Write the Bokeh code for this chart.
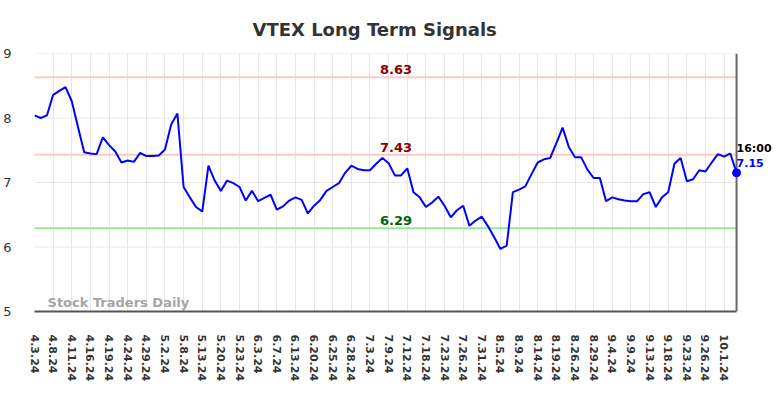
from bokeh.plotting import figure
from bokeh.models import Range1d, FixedTicker
from bokeh.core.properties import value
from bokeh.embed import file_html
from bokeh.resources import INLINE

title_text = "VTEX Long Term Signals"

prices = [
    8.04, 8.00, 8.04, 8.36, 8.42, 8.48, 8.26, 7.86, 7.47, 7.45,
    7.44, 7.70, 7.58, 7.48, 7.31, 7.34, 7.32, 7.46, 7.41, 7.41,
    7.42, 7.51, 7.90, 8.07, 6.93, 6.77, 6.62, 6.55, 7.26, 7.03,
    6.87, 7.03, 6.99, 6.93, 6.72, 6.87, 6.71, 6.76, 6.81, 6.58,
    6.63, 6.72, 6.77, 6.73, 6.52, 6.64, 6.73, 6.87, 6.93, 6.99,
    7.15, 7.26, 7.21, 7.19, 7.19, 7.29, 7.38, 7.30, 7.11, 7.11,
    7.22, 6.85, 6.77, 6.62, 6.69, 6.78, 6.64, 6.46, 6.57, 6.64,
    6.33, 6.41, 6.47, 6.32, 6.15, 5.97, 6.02, 6.85, 6.89, 6.94,
    7.13, 7.31, 7.36, 7.38, 7.61, 7.85, 7.55, 7.39, 7.39, 7.20,
    7.07, 7.07, 6.71, 6.77, 6.74, 6.72, 6.71, 6.71, 6.82, 6.85,
    6.62, 6.77, 6.85, 7.29, 7.38, 7.02, 7.05, 7.19, 7.17, 7.31,
    7.44, 7.40, 7.45, 7.15,
]

tick_labels = [
    "4.3.24", "4.8.24", "4.11.24", "4.16.24", "4.19.24", "4.24.24", "4.29.24",
    "5.2.24", "5.8.24", "5.13.24", "5.20.24", "5.23.24", "6.3.24", "6.7.24",
    "6.13.24", "6.20.24", "6.25.24", "6.28.24", "7.3.24", "7.9.24", "7.12.24",
    "7.18.24", "7.23.24", "7.26.24", "7.31.24", "8.5.24", "8.9.24", "8.14.24",
    "8.19.24", "8.26.24", "8.29.24", "9.4.24", "9.9.24", "9.13.24", "9.18.24",
    "9.23.24", "9.26.24", "10.1.24",
]
tick_step = 3
y_ticks = [5, 6, 7, 8, 9]

levels = [8.63, 7.43, 6.29]
level_line_colors = ["#ffc8c8", "#ffc8c8", "#99e699"]
level_text_colors = ["#8b0000", "#8b0000", "#006400"]

last_time = "16:00"
last_value = 7.15

xs = list(range(len(prices)))
last_x = xs[-1]
# room to the right of the last point for the time / value labels
x_pad = last_x * 0.0626

p = figure(width=780, height=394, output_backend="svg", toolbar_location=None,
           x_range=Range1d(0, last_x + x_pad), y_range=Range1d(5, 9),
           min_border_left=33, min_border_right=0, min_border_top=53,
           min_border_bottom=83)
p.outline_line_color = None
p.background_fill_color = "white"
p.border_fill_color = "white"

p.title.text = title_text
p.title.align = "left"
p.title.text_font = "DejaVu Sans"
p.title.text_font_size = "18px"
p.title.text_font_style = "bold"
p.title.text_color = "#333333"
p.title.offset = 218
p.title.standoff = 27

ticks = [i * tick_step for i in range(len(tick_labels))]
p.xaxis.ticker = FixedTicker(ticks=ticks)
p.xaxis.major_label_overrides = {t: lab for t, lab in zip(ticks, tick_labels)}
p.xaxis.major_label_orientation = "vertical"
p.xaxis.major_label_text_font = "DejaVu Sans"
p.xaxis.major_label_text_font_size = "11px"
p.xaxis.major_label_text_font_style = "bold"
p.xaxis.major_label_text_color = "#333333"
p.xaxis.major_label_standoff = 17
p.xaxis.axis_line_color = "#555555"
p.xaxis.axis_line_width = 2
p.xaxis.bounds = (0, last_x)
p.xaxis.major_tick_line_color = None
p.xaxis.minor_tick_line_color = None

p.yaxis.ticker = FixedTicker(ticks=y_ticks)
p.yaxis.major_label_text_font = "DejaVu Sans"
p.yaxis.major_label_text_font_size = "13px"
p.yaxis.major_label_text_color = "#333333"
p.yaxis.major_label_standoff = 17
p.yaxis.axis_line_color = None
p.yaxis.major_tick_line_color = None
p.yaxis.minor_tick_line_color = None

p.xgrid.grid_line_color = "#e6e6e6"
p.xgrid.grid_line_width = 1
p.ygrid.grid_line_color = None

# horizontal grid lines stop at the last data point
p.segment(x0=[0] * len(y_ticks), x1=[last_x] * len(y_ticks), y0=y_ticks,
          y1=y_ticks, line_color="#e6e6e6", line_width=1)

for lv, lc, tc in zip(levels, level_line_colors, level_text_colors):
    p.line([0, last_x], [lv, lv], line_color=lc, line_width=2)
    p.text(x=[58.2], y=[lv + 0.05], text=[f"{lv:.2f}"], text_align="center",
           text_baseline="bottom", text_color=tc, text_font=value("DejaVu Sans"),
           text_font_size="13px", text_font_style="bold")

p.segment(x0=[last_x], x1=[last_x], y0=[5], y1=[9], line_color="#666666",
          line_width=2)

p.text(x=[2.1], y=[5.02], text=["Stock Traders Daily"], text_align="left",
       text_baseline="bottom", text_color="#999999", text_alpha=0.9,
       text_font=value("DejaVu Sans"), text_font_size="13px",
       text_font_style="bold")

p.line(xs, prices, line_color="#0000ff", line_width=2)
p.scatter([last_x], [last_value], size=8, color="#0000ff")

p.text(x=[last_x], y=[7.53], text=[last_time], text_align="left",
       text_baseline="middle", text_color="#000000", text_font=value("DejaVu Sans"),
       text_font_size="11px", text_font_style="bold")
p.text(x=[last_x], y=[7.31], text=[f"{last_value:.2f}"], text_align="left",
       text_baseline="middle", text_color="#0000ff", text_font=value("DejaVu Sans"),
       text_font_size="11px", text_font_style="bold")

open("out.html", "w").write(file_html(p, INLINE))
